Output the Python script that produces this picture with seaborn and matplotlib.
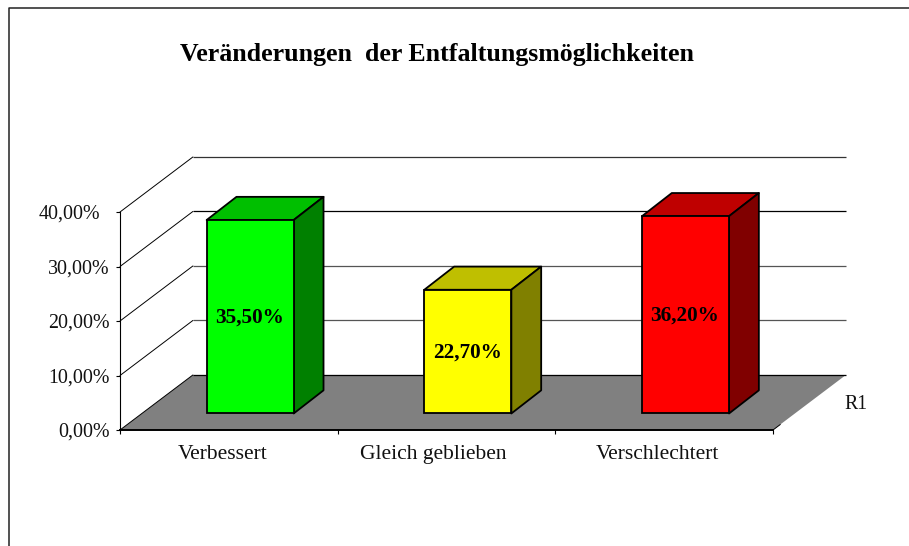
import matplotlib
matplotlib.use('Agg')
import matplotlib.pyplot as plt
import seaborn as sns
from matplotlib.patches import Polygon
from matplotlib.transforms import Affine2D

categories = ['Verbessert', 'Gleich geblieben', 'Verschlechtert']
values = [35.5, 22.7, 36.2]
value_labels = ['35,50%', '22,70%', '36,20%']
y_ticks = [0, 10, 20, 30, 40]
y_labels = ['0,00%', '10,00%', '20,00%', '30,00%', '40,00%']
front_colors = ['#00ff00', '#ffff00', '#ff0000']
top_colors = ['#00bf00', '#bfbf00', '#bf0000']
side_colors = ['#008000', '#808000', '#800000']
grid_colors = ['#000000', '#555555', '#555555', '#000000', '#333333']

W, H = 909, 546
sns.set_theme(style='white')
plt.rcParams['font.family'] = ['Liberation Serif', 'DejaVu Serif']

fig = plt.figure(figsize=(W / 100, H / 100), dpi=100)
ax = fig.add_axes([120 / W, 1 - 430 / H, 653 / W, 218 / H], facecolor='none')

sns.barplot(x=categories, y=values, hue=categories, palette=front_colors, saturation=1,
            width=0.4, legend=False, ax=ax, zorder=5, edgecolor='black', linewidth=1.3)
ax.set_xlim(-0.5, 2.5)
ax.set_ylim(0, 40)

# depth of the fake 3d box, in data units
wall_dx, wall_dy = 0.335, 10.1
front_dx, front_dy = 0.098, 3.03
bar_dx, bar_dy = 0.137, 4.25

# floor and back wall
ax.add_patch(Polygon([(-0.5, 0), (2.5, 0), (2.5 + wall_dx, wall_dy), (-0.5 + wall_dx, wall_dy)],
                     closed=True, facecolor='#808080', edgecolor='none', clip_on=False, zorder=1))
for t, c in zip(y_ticks, grid_colors):
    ax.plot([-0.5 + wall_dx, 2.5 + wall_dx], [t + wall_dy, t + wall_dy], color=c, lw=0.9,
            clip_on=False, zorder=2, solid_capstyle='butt')
    ax.plot([-0.5, -0.5 + wall_dx], [t, t + wall_dy], color='black', lw=0.7, clip_on=False, zorder=2)
ax.plot([2.5, 2.5 + 0.1 * wall_dx], [0, 0.1 * wall_dy], color='black', lw=0.7, clip_on=False, zorder=2)

# shift the bars to their depth and add top and side faces
shift = Affine2D().translate(*(ax.transData.transform((front_dx, front_dy)) - ax.transData.transform((0, 0))))
for i, bar in enumerate(ax.patches[:3]):
    x0, w, h = bar.get_x(), bar.get_width(), bar.get_height()
    x0 += front_dx
    x1 = x0 + w
    y0 = front_dy
    y1 = h + front_dy
    bar.set_transform(ax.transData + shift)
    bar.set_clip_on(False)
    ax.add_patch(Polygon([(x0, y1), (x1, y1), (x1 + bar_dx, y1 + bar_dy), (x0 + bar_dx, y1 + bar_dy)],
                         closed=True, facecolor=top_colors[i], edgecolor='black', lw=1.3,
                         clip_on=False, zorder=4, joinstyle='round'))
    ax.add_patch(Polygon([(x1, y0), (x1 + bar_dx, y0 + bar_dy), (x1 + bar_dx, y1 + bar_dy), (x1, y1)],
                         closed=True, facecolor=side_colors[i], edgecolor='black', lw=1.3,
                         clip_on=False, zorder=4, joinstyle='round'))
    ax.annotate(value_labels[i], (x0 + w / 2, front_dy + h / 2), xytext=(-0.5, -0.8),
                textcoords='offset points', ha='center', va='center',
                fontsize=15.3, fontweight='bold', color='black', zorder=6)

# axes
for name in ('top', 'right'):
    ax.spines[name].set_visible(False)
ax.spines['left'].set_linewidth(0.8)
ax.spines['left'].set_color('black')
ax.spines['bottom'].set_linewidth(1.4)
ax.spines['bottom'].set_color('black')
for s in ax.spines.values():
    s.set_zorder(3)
ax.set_yticks(y_ticks, y_labels)
ax.set_xticks([-0.5, 0.5, 1.5, 2.5], minor=False, labels=['', '', '', ''])
ax.tick_params(axis='both', length=3, width=0.8, color='black', direction='out',
               left=True, bottom=True, labelsize=14.4, labelcolor='#111111', pad=4.3)
ax.yaxis.get_major_ticks()[-1].set_pad(11.5)
ax.set_xlabel('')
ax.set_ylabel('')
# labels sit a bit left of the category centres in the original
label_shift = [-4.5, -9.5, -4.5]
for i, name in enumerate(categories):
    ax.annotate(name, (i, 0), xytext=(label_shift[i], -11), textcoords='offset points', ha='center', va='top',
                fontsize=15.5, color='#111111', annotation_clip=False)
ax.text(2.5 + wall_dx - 0.007, 4.7, 'R1', fontsize=14.4, color='#111111', va='center', ha='left')

fig.text(437.5 / W, 1 - 55 / H, 'Veränderungen  der Entfaltungsmöglichkeiten', ha='center', va='center',
         fontsize=18.67, fontweight='bold', color='black')

# chart frame
fig.add_artist(plt.Line2D([8.7 / W, 8.7 / W, 1], [0, 1 - 8 / H, 1 - 8 / H], color='#222222', lw=1.1))

fig.savefig('out.png', dpi=100, facecolor='white')
